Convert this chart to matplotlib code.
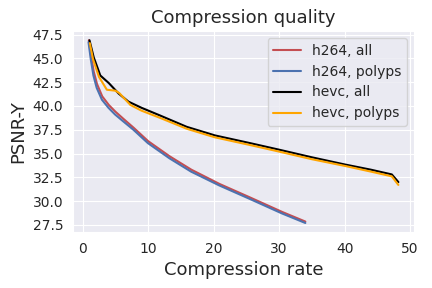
import numpy as np
import matplotlib
matplotlib.use('Agg')
import matplotlib.pyplot as plt
import seaborn as sns

# values
h264_all_rate = [0.95, 1.3, 1.7, 2.2, 3.0, 4.0, 5.0, 6.3, 7.8, 10.0, 13.3, 16.6, 20.9, 25.5, 30.5, 34.0]
h264_all_psnr = [46.9, 45.2, 43.6, 42.3, 41.0, 40.1, 39.4, 38.6, 37.7, 36.3, 34.7, 33.3, 31.8, 30.4, 28.85, 27.85]

h264_polyps_rate = [0.9, 1.25, 1.65, 2.15, 2.95, 3.95, 4.95, 6.25, 7.75, 9.95, 13.25, 16.55, 20.85, 25.45, 30.45, 34.0]
h264_polyps_psnr = [46.7, 44.9, 43.2, 41.9, 40.65, 39.8, 39.1, 38.35, 37.5, 36.1, 34.5, 33.1, 31.65, 30.25, 28.7, 27.7]

hevc_all_rate = [1.05, 1.7, 2.7, 4.0, 5.5, 7.0, 9.0, 11.8, 15.9, 20.2, 25.5, 30.0, 35.0, 40.0, 44.0, 47.2, 48.2]
hevc_all_psnr = [46.9, 45.1, 43.2, 42.4, 41.3, 40.45, 39.8, 39.0, 37.8, 36.9, 36.1, 35.4, 34.6, 33.85, 33.3, 32.8, 32.0]

hevc_polyps_rate = [1.1, 1.6, 2.5, 3.7, 5.0, 5.6, 7.3, 9.0, 11.8, 15.9, 20.2, 25.5, 30.0, 35.0, 40.0, 44.0, 47.2, 48.2]
hevc_polyps_psnr = [46.6, 44.9, 43.05, 41.7, 41.6, 41.35, 40.1, 39.5, 38.75, 37.6, 36.7, 35.9, 35.2, 34.4, 33.7, 33.1, 32.6, 31.7]

sns.set_style('darkgrid')

fig = plt.figure(figsize=(4.32, 2.88), dpi=100)
ax = plt.subplot(111)
fig.subplots_adjust(left=0.169, right=0.958, top=0.892, bottom=0.194)

ax.plot(h264_all_rate, h264_all_psnr, color='#C44E52', label='h264, all')
ax.plot(h264_polyps_rate, h264_polyps_psnr, color='#4C72B0', label='h264, polyps')
ax.plot(hevc_all_rate, hevc_all_psnr, color='k', label='hevc, all')
ax.plot(hevc_polyps_rate, hevc_polyps_psnr, color='orange', label='hevc, polyps')

ax.set_yticks(np.arange(27.5, 47.6, 2.5))
ax.set_title('Compression quality', fontsize=13)
ax.set_xlabel('Compression rate', fontsize=13)
ax.set_ylabel('PSNR-Y', fontsize=13)
ax.legend(loc='upper right')

fig.savefig('out.png', dpi=100)
